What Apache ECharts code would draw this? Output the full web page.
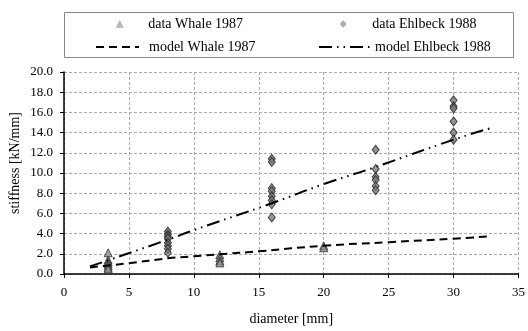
<!DOCTYPE html>
<html><head><meta charset="utf-8">
<script src="https://cdn.jsdelivr.net/npm/echarts@6/dist/echarts.min.js"></script>
<style>html,body{margin:0;padding:0;background:#fff}#c{width:528px;height:331px}</style>
</head><body><div id="c"></div>
<script>
// Data
const whaleDiam = [3.4, 3.4, 3.4, 3.4, 3.4, 3.4, 3.4, 12, 12, 12, 12, 20, 20];
const whaleStiff = [2.1, 1.4, 1.2, 1.0, 0.8, 0.6, 0.5, 1.9, 1.6, 1.3, 1.1, 2.8, 2.6];
const ehlDiam = [8, 8, 8, 8, 8, 8, 8, 8, 16, 16, 16, 16, 16, 16, 16, 16, 24, 24, 24, 24, 24, 24, 30, 30, 30, 30, 30, 30];
const ehlStiff = [4.2, 3.9, 3.7, 3.5, 3.1, 2.8, 2.5, 2.1, 11.4, 11.1, 8.5, 8.2, 7.7, 7.3, 6.9, 5.6, 12.3, 10.4, 9.6, 9.3, 8.7, 8.3, 17.2, 16.6, 16.4, 15.1, 14.0, 13.3];
const modelWhaleD = [2, 5, 8, 10, 12, 15, 20, 25, 30, 32.9];
const modelWhaleK = [0.65, 1.07, 1.55, 1.75, 1.95, 2.25, 2.8, 3.15, 3.5, 3.74];
const modelEhlD = [2, 8, 10, 16, 20, 24, 30, 32.9];
const modelEhlK = [0.75, 3.4, 4.35, 7.0, 8.9, 10.6, 13.3, 14.46];
const xTicks = {min: 0, max: 35, interval: 5};
const yTicks = {min: 0, max: 20, interval: 2};
const names = ['data Whale 1987', 'data Ehlbeck 1988', 'model Whale 1987', 'model Ehlbeck 1988'];

const zip = (a, b) => a.map((v, i) => [v, b[i]]);
const font = 'Liberation Serif';
const txt = {fontFamily: font, fontSize: 13, color: '#000'};
const legTxt = {fontFamily: font, fontSize: 14, color: '#000'};
const titleTxt = {fontFamily: font, fontSize: 14, color: '#000'};
const chart = echarts.init(document.getElementById('c'), null, {renderer: 'canvas'});

function leg(name, left, top, w, h, pad, extra) {
  return Object.assign({data: [name], left: left, top: top, itemWidth: w, itemHeight: h, orient: 'horizontal',
    padding: 0, textStyle: Object.assign({}, legTxt, {padding: [0, 0, 0, pad]}), selectedMode: false, itemGap: 0}, extra || {});
}

chart.setOption({
  animation: false,
  backgroundColor: '#fff',
  grid: {left: 64, right: 9, top: 72, bottom: 47, containLabel: false},
  legend: [
    leg(names[0], 116, 17, 7, 7, 20, {icon: 'triangle', itemStyle: {color: '#a6a6a6', borderColor: '#999', borderWidth: 0.5}}),
    leg(names[1], 340, 17, 6, 7, 21, {icon: 'diamond', itemStyle: {color: '#999', borderColor: '#888', borderWidth: 0.5}}),
    leg(names[2], 95, 40, 43, 7, 5, {itemStyle: {opacity: 0}}),
    leg(names[3], 318, 40, 51, 7, 0, {itemStyle: {opacity: 0}})
  ],
  graphic: [
    {type: 'rect', shape: {x: 64.5, y: 12.5, width: 449, height: 45}, style: {fill: 'none', stroke: '#888', lineWidth: 1}, z: -1},
    {type: 'text', x: 15, y: 163, rotation: Math.PI / 2,
     style: {text: 'stiffness [kN/mm]', font: '14px "Liberation Serif"', fill: '#000', align: 'center', verticalAlign: 'middle'}}
  ],
  xAxis: {
    type: 'value', min: xTicks.min, max: xTicks.max, interval: xTicks.interval,
    name: 'diameter [mm]', nameLocation: 'middle', nameGap: 38, nameTextStyle: titleTxt,
    axisLine: {lineStyle: {color: '#000', width: 1.5}},
    axisTick: {show: true, inside: false, length: 4, lineStyle: {color: '#000'}},
    axisLabel: {margin: 12, ...txt},
    splitLine: {show: true, lineStyle: {color: '#aaa', type: [3, 2], width: 1}}
  },
  yAxis: {
    type: 'value', min: yTicks.min, max: yTicks.max, interval: yTicks.interval,
    axisLine: {show: true, lineStyle: {color: '#000', width: 1.5}},
    axisTick: {show: true, inside: false, length: 4, lineStyle: {color: '#000'}},
    axisLabel: {margin: 11, ...txt, formatter: v => v.toFixed(1)},
    splitLine: {show: true, lineStyle: {color: '#aaa', type: [3, 2], width: 1}}
  },
  series: [
    {name: names[0], type: 'scatter', symbol: 'triangle', symbolSize: 8, data: zip(whaleDiam, whaleStiff),
     itemStyle: {color: '#8c8c8c', borderColor: '#333', borderWidth: 1}, z: 2},
    {name: names[1], type: 'scatter', symbol: 'diamond', symbolSize: [7, 9], data: zip(ehlDiam, ehlStiff),
     itemStyle: {color: '#7a7a7a', borderColor: '#222', borderWidth: 1}, z: 2},
    {name: names[2], type: 'line', smooth: true, symbol: 'none', data: zip(modelWhaleD, modelWhaleK),
     itemStyle: {color: '#000'}, lineStyle: {color: '#000', width: 2, type: [8, 5]}, z: 3},
    {name: names[3], type: 'line', smooth: true, symbol: 'none', data: zip(modelEhlD, modelEhlK),
     itemStyle: {color: '#000'}, lineStyle: {color: '#000', width: 2, type: [13, 5, 1.5, 5, 1.5, 5]}, z: 3}
  ]
});
</script></body></html>
